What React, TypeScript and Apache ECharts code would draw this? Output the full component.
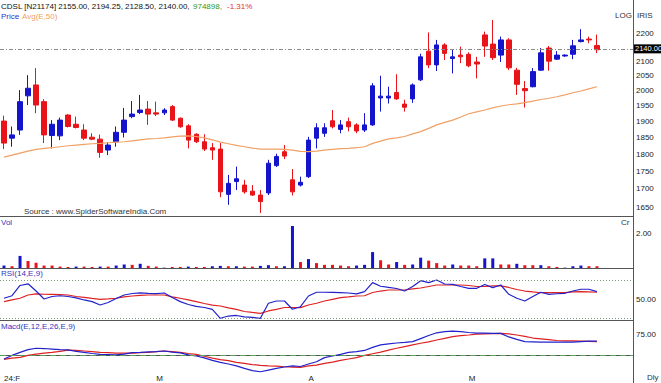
import React, { useEffect, useRef } from "react";
import * as echarts from "echarts";

// ---------- DATA ----------
const openP = [1902,1849,1874,1983,2019,1964,1857,1856,1921,1892,1874,1852,1846,1813,1838,1867,1916,1929,1940,1928,1928,1948,1911,1887,1861,1838,1820,1816,1685,1721,1711,1694,1683,1689,1767,1808,1726,1711,1735,1849,1864,1903,1876,1900,1890,1874,1890,1976,1976,1994,1956,1973,2036,2135,2087,2157,2109,2121,2124,2097,2193,2160,2121,2175,2069,2007,2013,2069,2146,2107,2118,2124,2169,2178,2155];
const highP = [1919,1885,2002,2052,2076,1972,1905,1913,1924,1916,1892,1864,1860,1836,1885,1944,1966,1986,1966,1964,1943,1953,1913,1892,1864,1861,1834,1834,1740,1764,1726,1711,1697,1784,1802,1828,1757,1735,1853,1895,1895,1937,1905,1913,1895,1927,2025,2050,2013,2055,1970,2024,2126,2202,2175,2163,2139,2151,2131,2115,2205,2248,2187,2181,2077,2032,2076,2146,2153,2135,2124,2175,2214,2187,2194.25];
const lowP = [1816,1823,1859,1953,1927,1834,1818,1843,1882,1879,1843,1843,1790,1798,1823,1851,1911,1924,1890,1918,1921,1902,1881,1818,1834,1810,1784,1677,1656,1697,1687,1681,1634,1683,1763,1786,1682,1707,1731,1818,1853,1879,1864,1870,1864,1868,1887,1932,1958,1970,1932,1960,2032,2076,2066,2104,2058,2093,2079,2041,2115,2104,2097,2069,1986,1945,2011,2066,2067,2104,2115,2107,2166,2163,2128.5];
const closeP = [1834,1859,1964,2008,1953,1859,1892,1905,1885,1882,1849,1846,1806,1828,1867,1905,1924,1937,1924,1924,1937,1905,1884,1843,1838,1816,1813,1692,1716,1729,1692,1683,1665,1774,1794,1795,1692,1719,1843,1881,1881,1884,1890,1884,1871,1890,2016,1982,1982,1973,1946,2019,2115,2087,2157,2127,2115,2115,2084,2090,2153,2112,2175,2077,2021,2000,2064,2129,2100,2121,2121,2154,2175,2175,2140];
const avg50 = [1792,1798,1804,1810,1815,1818,1820,1823,1826,1828,1830,1832,1833,1835,1837,1838,1841,1844,1847,1848,1850,1853,1855,1856,1854,1850,1844,1837,1832,1827,1823,1819,1816,1816,1816,1815,1813,1809,1808,1810,1813,1815,1817,1818,1820,1823,1833,1840,1847,1850,1854,1862,1869,1879,1890,1898,1905,1915,1925,1931,1937,1944,1950,1954,1957,1961,1966,1971,1975,1980,1986,1993,1999,2006,2013];
const volCr = [0.14,0.10,0.69,0.40,0.30,0.14,0.14,0.08,0.06,0.08,0.08,0.06,0.08,0.08,0.14,0.20,0.18,0.24,0.12,0.08,0.02,0.06,0.06,0.08,0.06,0.06,0.10,0.12,0.10,0.10,0.08,0.08,0.12,0.16,0.10,0.10,2.40,0.34,0.51,0.28,0.18,0.18,0.14,0.10,0.14,0.18,0.91,0.44,0.20,0.34,0.18,0.20,0.59,0.42,0.28,0.14,0.20,0.14,0.14,0.10,0.55,0.55,0.20,0.20,0.24,0.16,0.16,0.16,0.10,0.06,0.02,0.10,0.14,0.10,0.10];
const volDir = "BRBRRRRRRBRRBRBBRBRRBRRBRRBBRBRRBBRBBRBRRRRRBBBRRBRBBRRRBRRRBBRRBRRBRRBBBRR".split("");
const rsi = [51.3,54,64.9,66.7,59,50.5,53.2,54,53.2,51.8,49.5,47.7,44.1,46.8,51,54.8,56.4,57.1,56.6,56.2,56.9,52.1,47.7,44.7,42.6,41.5,39.4,30,32.4,33,31.6,30.9,30,46,48.4,48.4,39.6,42.3,53.7,57.7,57.7,57.6,57.3,56.9,55.9,58.3,67.9,64.1,62.8,61.7,59,63.8,70,67.9,70.7,66.5,66,63.8,61.9,61.9,66,62.6,65.4,55.5,51.3,48.4,53.2,57.7,55.5,56.1,56.6,59,60.9,60.9,58.3];
const rsiSignal = [47.7,49.5,51.3,54.8,55.9,55.6,55.5,55.2,54.8,53.2,52.3,51.1,50.2,50.7,51.3,52.7,53.7,54.3,54.8,54.8,54.8,52.7,51.3,49.5,47.7,45.7,44.1,43.1,41,39.4,37.2,36.2,35.3,37.8,39.4,41.5,41.5,41.3,44.1,46,48.4,50.2,51.9,52.7,53.7,54,57.4,59,60.1,60.1,60.1,61.2,62.2,63.8,65.4,65.4,65.4,65.4,64.9,63.8,63.8,64.4,64.4,62.8,60.6,59,58,57.2,57.2,57.2,57.4,58,58.3,58.2,57.7];
const macd = [-12,1,12,22,27,26,24,22,21,16,12,8,5,4,3,6,11,12,14,15,17,13,10,3,-1,-8,-17,-24,-30,-37,-46,-54,-58,-52,-46,-41,-37,-39,-30,-22,-7,-1,5,12,15,19,30,39,43,46,48,51,62,73,83,87,89,87,84,82,82,81,81,68,59,51,50,49,49,49,49,49,51,53,53];
const macdSignal = [-13,-9,-6,1,6,9,12,16,20,19,17,15,12,11,9,9,9,11,12,15,17,15,12,8,5,-2,-9,-14,-18,-24,-28,-32,-35,-37,-38,-40,-41,-42,-37,-34,-28,-23,-17,-12,-7,1,7,13,20,27,33,39,45,50,57,63,69,73,75,78,79,80,81,79,75,70,64,61,58,55,54,54,53,52,51];
// 2150 is hidden behind the last-price box in the reference
const priceTicks = [1650,1700,1750,1800,1850,1900,1950,2000,2050,2100,2200];
const tickIndex = [0, 19, 38, 58];
const tickLabels = ["24:F", "M", "A", "M"];
const SLOTS = 79; // 75 sessions + 4 blank slots on the right
const lastPrice = 2140;
const lastVol = 0.10;

// ---------- STYLE ----------
const BLUE = "#1414cc";
const RED = "#e8141a";
const ORANGE = "#f0a064";
const LINE_BLUE = "#2222cc";
const LINE_RED = "#dd2222";
const AXIS = "#555";
const FONT = "Liberation Sans";

export default function App() {
  const ref = useRef<HTMLDivElement>(null);
  useEffect(() => {
    const chart = echarts.init(ref.current!, undefined, { renderer: "svg" });
    const ln = Math.log;
    const categories = Array.from({ length: SLOTS }, (_, i) => String(i));
    const labelFor = (idx: number) => {
      const k = tickIndex.indexOf(idx);
      return k >= 0 ? tickLabels[k] : "";
    };
    // price axis (log): 2200 at y=33, 605 px per ln unit, grid 0..216.5
    const pMax = ln(2200) + 33 / 605;
    const pMin = ln(2200) - 183.5 / 605;

    const grids = [
      { left: 0, width: 633, top: 0, height: 216.5 },
      { left: 0, width: 633, top: 216.5, height: 51.5 },
      { left: 0, width: 633, top: 268, height: 52.5 },
      { left: 0, width: 633, top: 320.5, height: 51.8 },
    ];
    const xAxes = grids.map((_, gi) => ({
      type: "category",
      gridIndex: gi,
      data: categories,
      boundaryGap: true,
      axisLine: { show: true, lineStyle: { color: AXIS, width: 1 } },
      axisTick: { show: false },
      axisLabel: gi === 3
        ? { show: true, interval: 0, align: "left", margin: 2, fontSize: 8, color: "#222", fontFamily: FONT,
            formatter: (_v: string, idx: number) => labelFor(idx) }
        : { show: false },
      splitLine: { show: false },
    }));
    const baseY = {
      type: "value",
      position: "right",
      axisLine: { show: true, onZero: false, lineStyle: { color: AXIS, width: 1 } },
      axisTick: { show: false },
      splitLine: { show: false },
    };
    const lbl = (vals: number[], fmt: (v: number) => string) => ({
      customValues: vals, margin: 3, fontSize: 8, color: "#222", fontFamily: FONT, formatter: fmt,
    });
    const yAxes = [
      { ...baseY, gridIndex: 0, min: pMin, max: pMax,
        axisLabel: lbl(priceTicks.map((p) => ln(p)), (v) => String(Math.round(Math.exp(v)))) },
      { ...baseY, gridIndex: 1, min: 0, max: 51.5 / 17.5, axisLabel: lbl([2], (v) => v.toFixed(2)) },
      { ...baseY, gridIndex: 2, min: 27.65, max: 83.5, axisLabel: lbl([50], (v) => v.toFixed(2)) },
      { ...baseY, gridIndex: 3, min: -60.1, max: 127.5, axisLabel: lbl([75], (v) => v.toFixed(2)) },
    ];

    const boxLabel = (txt: string) => ({
      show: true, position: "end", distance: 1, formatter: txt,
      backgroundColor: "#000", color: "#fff", fontSize: 7.5, fontFamily: FONT, padding: [1, 0, 0, 1],
    });

    const text = (x: number, y: number, t: string, color: string, size = 8) => ({
      type: "text", x, y, silent: true,
      style: { text: t, fill: color, fontSize: size, fontFamily: FONT, textVerticalAlign: "top", textAlign: "left" },
    });

    const option: any = {
      animation: false,
      backgroundColor: "#fff",
      textStyle: { fontFamily: FONT },
      grid: grids,
      xAxis: xAxes,
      yAxis: yAxes,
      series: [
        {
          type: "candlestick", xAxisIndex: 0, yAxisIndex: 0, barWidth: 5,
          data: openP.map((o, i) => [ln(o), ln(closeP[i]), ln(lowP[i]), ln(highP[i])]),
          itemStyle: { color: BLUE, color0: RED, borderColor: BLUE, borderColor0: RED, borderWidth: 1 },
          markLine: {
            silent: true, symbol: "none",
            lineStyle: { color: "#8a8a8a", type: [4, 2, 1, 2], width: 1 },
            label: boxLabel(lastPrice.toFixed(2)),
            data: [{ yAxis: ln(lastPrice) }],
          },
        },
        {
          type: "line", xAxisIndex: 0, yAxisIndex: 0, showSymbol: false, symbol: "none",
          data: avg50.map((v) => ln(v)),
          lineStyle: { color: ORANGE, width: 1.2 },
        },
        {
          type: "bar", xAxisIndex: 1, yAxisIndex: 1, barWidth: 3,
          data: volCr.map((v, i) => ({ value: v, itemStyle: { color: volDir[i] === "B" ? BLUE : RED } })),
          markLine: {
            silent: true, symbol: "none",
            lineStyle: { opacity: 0 },
            label: boxLabel(lastVol.toFixed(2)),
            data: [{ yAxis: lastVol }],
          },
        },
        {
          type: "line", xAxisIndex: 2, yAxisIndex: 2, showSymbol: false, symbol: "none",
          data: rsiSignal, lineStyle: { color: LINE_RED, width: 1.2 },
        },
        {
          type: "line", xAxisIndex: 2, yAxisIndex: 2, showSymbol: false, symbol: "none",
          data: rsi, lineStyle: { color: LINE_BLUE, width: 1.2 },
          markLine: {
            silent: true, symbol: "none", label: { show: false },
            lineStyle: { color: "#7a9a7a", type: [1, 2], width: 1 },
            data: [{ yAxis: 70 }, { yAxis: 30 }],
          },
        },
        {
          type: "line", xAxisIndex: 3, yAxisIndex: 3, showSymbol: false, symbol: "none",
          data: macdSignal, lineStyle: { color: LINE_RED, width: 1.2 },
        },
        {
          type: "line", xAxisIndex: 3, yAxisIndex: 3, showSymbol: false, symbol: "none",
          data: macd, lineStyle: { color: LINE_BLUE, width: 1.2 },
          markLine: {
            silent: true, symbol: "none", label: { show: false },
            lineStyle: { color: "#5aa05a", type: [6, 4], width: 1 },
            data: [{ yAxis: 0 }],
          },
        },
      ],
      graphic: [
        { type: "line", silent: true, shape: { x1: 633.5, y1: 372, x2: 633.5, y2: 383 }, style: { stroke: AXIS, lineWidth: 1 } },
        text(1, 2, "CDSL [N21174] 2155.00, 2194.25, 2128.50, 2140.00,", "#111"),
        text(193, 2, "974898,", "#2a9a2a"),
        text(227, 2, "-1.31%", "#e03030"),
        text(1, 12, "Price", "#3333cc"),
        text(22, 12, "Avg(E,50)", ORANGE),
        text(615, 11, "LOG", "#333"),
        text(637, 11, "IRIS", "#333"),
        text(24, 207, "Source : www.SpiderSoftwareIndia.Com", "#333"),
        text(1, 218, "Vol", "#3535c0"),
        text(621, 218, "Cr", "#333"),
        text(1, 269, "RSI(14,E,9)", "#3535c0"),
        text(1, 322, "Macd(E,12,E,26,E,9)", "#3535c0"),
        text(647, 373, "Dly", "#333"),
      ],
    };
    chart.setOption(option);
    return () => chart.dispose();
  }, []);
  return (
    <div
      ref={ref}
      style={{ position: "fixed", left: 0, top: 0, width: 661, height: 383, background: "#fff" }}
    />
  );
}
